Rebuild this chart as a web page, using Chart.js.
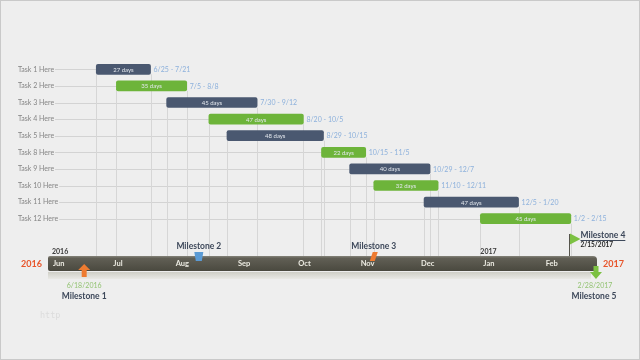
<!DOCTYPE html>
<html>
<head>
<meta charset="utf-8">
<script src="https://cdn.jsdelivr.net/npm/chart.js@4.4.1/dist/chart.umd.min.js"></script>
<style>
  html, body { margin: 0; padding: 0; background: #eeeeee; }
</style>
</head>
<body>
<canvas id="gantt" width="640" height="360"></canvas>
<script>
// ---- data ----
const tasks = ['Task 1 Here', 'Task 2 Here', 'Task 3 Here', 'Task 4 Here', 'Task 5 Here',
               'Task 8 Here', 'Task 9 Here', 'Task 10 Here', 'Task 11 Here', 'Task 12 Here'];
const startDates = ['2016-06-25', '2016-07-05', '2016-07-30', '2016-08-20', '2016-08-29',
                    '2016-10-15', '2016-10-29', '2016-11-10', '2016-12-05', '2017-01-02'];
const endDates = ['2016-07-21', '2016-08-08', '2016-09-12', '2016-10-05', '2016-10-15',
                  '2016-11-05', '2016-12-07', '2016-12-11', '2017-01-20', '2017-02-15'];
const durationLabels = ['27 days', '35 days', '45 days', '47 days', '48 days',
                        '22 days', '40 days', '32 days', '47 days', '45 days'];
const rangeLabels = ['6/25 - 7/21', '7/5 - 8/8', '7/30 - 9/12', '8/20 - 10/5', '8/29 - 10/15',
                     '10/15 - 11/5', '10/29 - 12/7', '11/10 - 12/11', '12/5 - 1/20', '1/2 - 2/15'];

const monthStarts = ['2016-06-01', '2016-07-01', '2016-08-01', '2016-09-01', '2016-10-01',
                     '2016-11-01', '2016-12-01', '2017-01-01', '2017-02-01'];
const monthLabels = ['Jun', 'Jul', 'Aug', 'Sep', 'Oct', 'Nov', 'Dec', 'Jan', 'Feb'];
const timelineStart = '2016-06-01';
const timelineEnd = '2017-03-01';
const yearStarts = ['2016-06-01', '2017-01-01'];
const yearLabels = ['2016', '2017'];

const milestoneNames = ['Milestone 1', 'Milestone 2', 'Milestone 3', 'Milestone 4', 'Milestone 5'];
const milestoneDates = ['2016-06-18', '2016-08-15', '2016-11-10', '2017-02-15', '2017-02-28'];
const milestoneDateLabels = ['6/18/2016', '', '', '2/15/2017', '2/28/2017'];

const NAVY = '#4a5870';
const GREEN = '#6db43a';
const FONT = 'Lato, "Open Sans", sans-serif';

const DAY = 86400000;
const ORIGIN = Date.UTC(2016, 5, 1);
function dayOf(s) {
  const [y, m, d] = s.split('-').map(Number);
  return (Date.UTC(y, m - 1, d) - ORIGIN) / DAY;
}

const bars = tasks.map((t, i) => [dayOf(startDates[i]), dayOf(endDates[i]) + 1]);
const barColors = tasks.map((t, i) => i % 2 ? GREEN : NAVY);

// ---- drawing helpers ----
function text(ctx, str, x, y, font, color, align = 'left', base = 'middle') {
  ctx.font = font;
  ctx.fillStyle = color;
  ctx.textAlign = align;
  ctx.textBaseline = base;
  ctx.fillText(str, x, y);
}

const TL_TOP = 256, TL_BOT = 271;

const ganttDecor = {
  id: 'ganttDecor',
  afterLayout(chart) {
    // let the task labels run past the narrow y-axis box without being clipped
    chart.scales.y.right = chart.scales.y.left + 60;
  },
  beforeDraw(chart) {
    const { ctx, scales: { x } } = chart;
    ctx.save();
    ctx.fillStyle = '#eeeeee';
    ctx.fillRect(0, 0, 640, 360);
    ctx.strokeStyle = '#c9c9c9';
    ctx.lineWidth = 1;
    ctx.strokeRect(0.5, 0.5, 639, 359);
    text(ctx, 'http', 40, 316, '8.5px "DejaVu Sans Mono", monospace', '#dcdcdc');

    // timeline band
    const x0 = x.getPixelForValue(dayOf(timelineStart));
    const x1 = x.getPixelForValue(dayOf(timelineEnd));
    let g = ctx.createLinearGradient(0, TL_BOT + 1, 0, TL_BOT + 8);
    g.addColorStop(0, '#cfcfc7');
    g.addColorStop(1, '#e9e9e5');
    ctx.fillStyle = g;
    ctx.fillRect(x0, TL_BOT + 1, x1 - x0 - 6, 7);

    g = ctx.createLinearGradient(0, TL_TOP, 0, TL_BOT);
    g.addColorStop(0, '#85847a');
    g.addColorStop(0.15, '#615f55');
    g.addColorStop(1, '#4a493f');
    ctx.fillStyle = g;
    ctx.beginPath();
    ctx.moveTo(x0 + 2, TL_TOP);
    ctx.lineTo(x1 - 4, TL_TOP);
    ctx.quadraticCurveTo(x1, TL_TOP, x1, TL_TOP + 4);
    ctx.lineTo(x1, TL_BOT - 2);
    ctx.quadraticCurveTo(x1, TL_BOT, x1 - 3, TL_BOT);
    ctx.lineTo(x0 + 2, TL_BOT);
    ctx.quadraticCurveTo(x0, TL_BOT, x0, TL_BOT - 2);
    ctx.lineTo(x0, TL_TOP + 2);
    ctx.quadraticCurveTo(x0, TL_TOP, x0 + 2, TL_TOP);
    ctx.fill();
    ctx.restore();
  },
  beforeDatasetsDraw(chart) {
    const { ctx, scales: { x, y } } = chart;
    ctx.save();
    ctx.lineWidth = 1;
    // row guide lines from label to bar start
    ctx.font = '7px ' + FONT;
    ctx.strokeStyle = '#d3d3d3';
    tasks.forEach((t, i) => {
      const py = Math.round(y.getPixelForValue(i)) + 0.5;
      const lx = 18 + ctx.measureText(t).width + 1;
      ctx.beginPath();
      ctx.moveTo(lx, py);
      ctx.lineTo(x.getPixelForValue(bars[i][0]), py);
      ctx.stroke();
    });
    // drop lines from bar edges to the timeline
    ctx.strokeStyle = '#d6d6d6';
    bars.forEach((b, i) => {
      const py = y.getPixelForValue(i) + 5;
      b.forEach(v => {
        const px = Math.round(x.getPixelForValue(v)) + 0.5;
        ctx.beginPath();
        ctx.moveTo(px, py);
        ctx.lineTo(px, TL_TOP);
        ctx.stroke();
      });
    });
    ctx.restore();
  },
  afterDatasetsDraw(chart) {
    const { ctx, scales: { x, y } } = chart;
    ctx.save();
    // bar captions
    bars.forEach((b, i) => {
      const py = y.getPixelForValue(i);
      const xs = x.getPixelForValue(b[0]);
      const xe = x.getPixelForValue(b[1]);
      text(ctx, durationLabels[i], (xs + xe) / 2, py + 0.5, '6px ' + FONT, '#e4e8ee', 'center');
      text(ctx, rangeLabels[i], xe + 3, py + 0.5, '7px ' + FONT, '#8db1dc');
    });

    // year labels
    yearLabels.forEach((yl, i) => {
      text(ctx, yl, x.getPixelForValue(dayOf(yearStarts[i])) + (i ? 2 : 4), 252, 'bold 7px ' + FONT, '#3a3a3a');
    });
    const xl = x.getPixelForValue(dayOf(timelineStart));
    const xr = x.getPixelForValue(dayOf(timelineEnd));
    text(ctx, yearLabels[0], xl - 6, 264, 'bold 9px ' + FONT, '#e8552b', 'right');
    text(ctx, yearLabels[1], xr + 6, 264, 'bold 9px ' + FONT, '#e8552b', 'left');

    const mx = milestoneDates.map(d => x.getPixelForValue(dayOf(d)));
    const nameFont = 'bold 8.5px ' + FONT;
    const nameColor = '#3d485a';

    // Milestone 1: orange up arrow under the band
    let cx = mx[0] + 2;
    ctx.fillStyle = '#ee7b30';
    ctx.beginPath();
    ctx.moveTo(cx, 264);
    ctx.lineTo(cx + 6, 270);
    ctx.lineTo(cx + 2.5, 270);
    ctx.lineTo(cx + 2.5, 277);
    ctx.lineTo(cx - 2.5, 277);
    ctx.lineTo(cx - 2.5, 270);
    ctx.lineTo(cx - 6, 270);
    ctx.closePath();
    ctx.fill();
    text(ctx, milestoneDateLabels[0], cx, 286, '7px ' + FONT, '#93c373', 'center');
    text(ctx, milestoneNames[0], cx, 296, nameFont, nameColor, 'center');

    // Milestone 2: blue bucket marker
    cx = mx[1];
    ctx.fillStyle = '#5b9bd5';
    ctx.beginPath();
    ctx.moveTo(cx - 4.5, 252);
    ctx.lineTo(cx + 4.5, 252);
    ctx.lineTo(cx + 3, 261);
    ctx.lineTo(cx - 3, 261);
    ctx.closePath();
    ctx.fill();
    text(ctx, milestoneNames[1], cx, 246, nameFont, nameColor, 'center');

    // Milestone 3: orange slanted marker
    cx = mx[2];
    ctx.fillStyle = '#ee7b30';
    ctx.beginPath();
    ctx.moveTo(cx - 1, 252);
    ctx.lineTo(cx + 4, 252);
    ctx.lineTo(cx + 1, 261);
    ctx.lineTo(cx - 4, 261);
    ctx.closePath();
    ctx.fill();
    text(ctx, milestoneNames[2], cx, 246, nameFont, nameColor, 'center');

    // Milestone 4: flag on a pole
    cx = Math.round(mx[3]) + 0.5;
    ctx.strokeStyle = '#55544c';
    ctx.lineWidth = 1;
    ctx.beginPath();
    ctx.moveTo(cx, 234);
    ctx.lineTo(cx, TL_TOP);
    ctx.stroke();
    ctx.fillStyle = '#7cc142';
    ctx.beginPath();
    ctx.moveTo(cx + 0.5, 233.5);
    ctx.lineTo(cx + 11, 239);
    ctx.lineTo(cx + 0.5, 244.5);
    ctx.closePath();
    ctx.fill();
    text(ctx, milestoneNames[3], cx + 11, 235.5, nameFont, nameColor);
    ctx.font = nameFont;
    const w4 = ctx.measureText(milestoneNames[3]).width;
    ctx.strokeStyle = nameColor;
    ctx.beginPath();
    ctx.moveTo(cx + 11, 240.5);
    ctx.lineTo(cx + 11 + w4, 240.5);
    ctx.stroke();
    text(ctx, milestoneDateLabels[3], cx + 11, 244.5, 'bold 6.5px ' + FONT, '#222222');

    // Milestone 5: green down arrow
    cx = mx[4] + 1;
    ctx.fillStyle = '#7cc142';
    ctx.beginPath();
    ctx.moveTo(cx - 2.5, 266);
    ctx.lineTo(cx + 2.5, 266);
    ctx.lineTo(cx + 2.5, 272);
    ctx.lineTo(cx + 6, 272);
    ctx.lineTo(cx, 279);
    ctx.lineTo(cx - 6, 272);
    ctx.lineTo(cx - 2.5, 272);
    ctx.closePath();
    ctx.fill();
    text(ctx, milestoneDateLabels[4], cx - 1, 286, '7px ' + FONT, '#93c373', 'center');
    text(ctx, milestoneNames[4], cx - 2, 296, nameFont, nameColor, 'center');
    ctx.restore();
  }
};

new Chart(document.getElementById('gantt'), {
  type: 'bar',
  data: {
    labels: tasks,
    datasets: [{
      data: bars,
      backgroundColor: barColors,
      borderRadius: 2,
      borderSkipped: false,
      barThickness: 10,
    }],
  },
  options: {
    indexAxis: 'y',
    responsive: false,
    animation: false,
    layout: { padding: { top: 61, left: 18, right: 43, bottom: 60 } },
    plugins: { legend: { display: false }, tooltip: { enabled: false } },
    scales: {
      x: {
        type: 'linear',
        min: dayOf(timelineStart),
        max: dayOf(timelineEnd),
        afterBuildTicks: s => { s.ticks = monthStarts.map(m => ({ value: dayOf(m) })); },
        grid: { display: false, drawTicks: false },
        border: { display: false },
        ticks: {
          autoSkip: false, maxRotation: 0, align: 'start', labelOffset: 5, padding: 32,
          color: '#ecebe2', font: { family: FONT, size: 7.5, weight: 'bold' },
          callback: (v, i) => monthLabels[i],
        },
      },
      y: {
        grid: { display: false },
        border: { display: false },
        afterFit: s => { s.width = 30; },
        ticks: { crossAlign: 'far', padding: 0, color: '#858585', font: { family: FONT, size: 7 } },
      },
    },
  },
  plugins: [ganttDecor],
});
</script>
</body>
</html>
